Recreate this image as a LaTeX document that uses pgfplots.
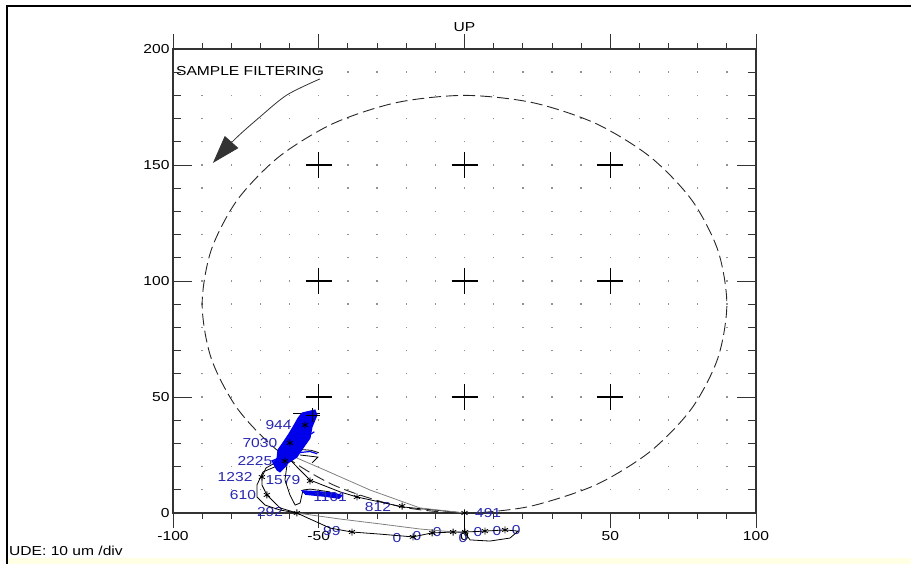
\documentclass[border=0pt]{standalone}
\usepackage{fontspec}
\setmainfont[FakeStretch=1.2]{Liberation Sans}
\usepackage{pgfplots}
\pgfplotsset{compat=1.18}
\usetikzlibrary{arrows.meta}
\definecolor{lblue}{RGB}{40,40,175}
\definecolor{blobc}{RGB}{0,0,235}
\definecolor{ystrip}{RGB}{255,255,228}
\begin{document}
\begin{tikzpicture}[x=1pt,y=1pt,font=\fontsize{13}{15}\selectfont]
\path[use as bounding box] (0,0) rectangle (911,564);
\fill[ystrip] (8,0) rectangle (911,6);
\draw[line width=1.8pt] (7,0) -- (7,558) -- (911,558);
\node[anchor=west,inner sep=0pt] at (9,13) {UDE: 10 um /div};

\begin{axis}[at={(173pt,51pt)}, anchor=south west, scale only axis,
  width=583pt, height=464pt,
  xmin=-100, xmax=100, ymin=0, ymax=200, clip=false,
  xtick={-100,-50,0,50,100}, minor x tick num=4, ytick=\empty,
  tick align=outside, major tick length=15pt, minor tick length=6pt,
  xmajorgrids, xminorgrids,
  grid style={draw=gray!85, line width=1.4pt, dash pattern=on 1.4pt off 21.8pt, dash phase=0.7pt},
  minor grid style={draw=gray!85, line width=1.4pt, dash pattern=on 1.4pt off 21.8pt, dash phase=0.7pt},
  axis line style={line width=1.1pt, draw=black!80},
  tick style={line width=0.9pt, draw=black!80},
  /pgf/number format/assume math mode=true,
  xticklabel style={font=\fontsize{13}{15}\selectfont},
  ]
% dashed reference circle
\addplot[smooth, line width=0.9pt, black!85, dash pattern=on 12pt off 5pt] coordinates {
(0,0) (6.3,0.22) (23.3,3.1) (45,12.1) (63.6,26.4) (77.9,45) (86.9,66.7) (90,90)
(86.9,113.3) (77.9,135) (63.6,153.6) (45,167.9) (23.3,176.9) (0,180)
(-23.3,176.9) (-45,167.9) (-63.6,153.6) (-77.9,135) (-86.9,113.3) (-90,90)
(-86.9,66.7) (-77.9,45) (-63.6,26.4) (-45,12.1) (-23.3,3.1) (-6.3,0.22) (0,0)};
% crosses
\addplot[only marks, mark=+, mark size=13pt, mark options={line width=1.2pt, black}] coordinates {
(-50,50)(0,50)(50,50)(-50,100)(0,100)(50,100)(-50,150)(0,150)(50,150)};
% sample filtering arrow
\addplot[smooth, line width=0.8pt, black!80, -{Triangle[length=28pt,width=18pt]}] coordinates {
(-49.6,187.1) (-60.9,180.2) (-70.2,170.7) (-78.7,161.2) (-86.3,150.9)};
\node[anchor=west, inner sep=0pt] at (axis cs:-99,190.5) {SAMPLE FILTERING};
\node at (axis cs:0,200) [yshift=22pt] {UP};

% data labels (drawn under the blob)
\begin{scope}[every node/.style={lblue, inner sep=0pt}]
\node at (axis cs:-63.8,37.9) {944};
\node at (axis cs:-70.2,30.2) {7030};
\node at (axis cs:-71.9,22.4) {2225};
\node at (axis cs:-78.7,15.5) {1232};
\node at (axis cs:-62.3,14.2) {1579};
\node at (axis cs:-76.0,7.8) {610};
\node at (axis cs:-66.7,0.4) {292};
\node at (axis cs:-29.7,2.6) {812};
\node at (axis cs:8.1,0) {491};
\node at (axis cs:-45.5,-7.8) {99};
\node at (axis cs:-23.2,-10.8) {0};
\node at (axis cs:-16.3,-9.9) {0};
\node at (axis cs:-9.4,-8.2) {0};
\node at (axis cs:-0.5,-10.8) {0};
\node at (axis cs:4.6,-8.2) {0};
\node at (axis cs:11.1,-7.8) {0};
\node at (axis cs:17.7,-7.3) {0};
\end{scope}

% trajectory lines
\addplot[line width=0.8pt, black] coordinates {(-60.5,23.7) (-53.0,14.2) (-42.7,9.1) (-36.9,6.9) (-21.1,2.6) (0,0)};
\addplot[line width=0.8pt, gray] coordinates {(-59.9,25.0) (-47.9,18.5) (-32.4,9.9) (-15.3,2.2) (0,0)};
\addplot[line width=0.8pt, gray] coordinates {(-57.5,0) (-42.7,-2.6) (-29.0,-4.7) (-15.3,-6.9) (0.2,-8.6)};
\addplot[line width=0.8pt, black] coordinates {(-57.5,0) (-53.0,-2.6) (-46.1,-6.5) (-38.6,-8.2) (-29.0,-9.1) (-17.7,-10.3) (-11.2,-8.6) (-3.9,-8.2) (0.2,-8.2) (7.0,-7.8) (13.9,-7.3)};
\addplot[line width=0.8pt, black] coordinates {(-57.5,0) (-63.3,2.2) (-67.8,7.8) (-69.5,12.1) (-69.5,15.5) (-68.1,19.4) (-65.0,21.6) (-61.6,22.4)};
\addplot[line width=0.8pt, black] coordinates {(-64.3,20.3) (-69.1,17.7) (-71.2,12.1) (-71.2,6.9) (-68.4,3.4) (-63.3,1.3) (-57.5,0)};
\addplot[line width=0.8pt, black] coordinates {(-60.9,20.7) (-61.6,14.2) (-59.9,7.8) (-58.1,3.4) (-56.4,4.3) (-55.4,9.9) (-53.0,10.3) (-46.1,9.1)};
\addplot[line width=0.8pt, black] coordinates {(-58.8,43.1) (-49.6,43.1)};
\addplot[line width=0.8pt, black] coordinates {(-56.4,25.0) (-50.3,24.1) (-52.3,21.6)};
\addplot[line width=0.8pt, black] coordinates {(-57.5,27.5) (-52.5,27.0) (-50.0,26.0)};
\addplot[line width=0.8pt, black] coordinates {(0,0) (0,-8.2)};
\addplot[line width=0.8pt, black] coordinates {(0.2,-8.6) (1.9,-11.6) (8.7,-12.1) (15.6,-10.8) (18.4,-7.8) (13.9,-7.3)};

% blue blobs
\addplot[fill=blobc, draw=blobc, line width=1pt] coordinates {
(-54.4,43.5) (-51.3,44.4) (-50.6,42.2) (-51.3,40.1) (-52.3,37.1) (-53.0,32.3)
(-55.4,28.0) (-57.5,24.1) (-60.5,21.6) (-61.6,19.8) (-63.3,17.7) (-64.3,18.5)
(-65.7,21.6) (-64.3,23.7) (-64.0,27.2) (-62.3,30.2) (-60.5,33.6) (-58.8,37.1)
(-57.1,40.9) (-55.7,43.1) (-54.4,43.5)} -- cycle;
\addplot[fill=blobc, draw=blobc, line width=1pt] coordinates {
(-55.7,9.6) (-50.0,9.2) (-45.0,8.6) (-42.0,7.6) (-43.0,6.3) (-48.0,7.2) (-54.5,8.0) (-55.7,9.6)} -- cycle;
\addplot[line width=1.2pt, blobc] coordinates {(-57,26) (-53,26.5) (-50.5,25.5)};
\addplot[line width=1.2pt, blobc] coordinates {(-58,30) (-54,33) (-51.5,35)};
\addplot[line width=1.2pt, blobc] coordinates {(-63,24) (-66,22.5) (-64.5,20)};
\node[lblue, inner sep=0pt] at (axis cs:-46.1,6.9) {1101};

% star markers
\addplot[only marks, mark=asterisk, mark size=3.5pt, mark options={line width=0.8pt, black}] coordinates {
(0,0) (-21.4,3.0) (-36.9,6.9) (-53,13.8) (-57.5,0) (-67.8,7.8) (-69.5,15.5)
(-61.6,22.4) (-59.9,30.2) (-54.7,37.9) (-38.6,-8.2) (-11.1,-8.6) (-3.9,-8.2)
(0.2,-8.2) (7,-7.8) (13.9,-7.3) (-17.7,-10.3)};
\addplot[only marks, mark=+, mark size=7pt, mark options={line width=1pt, black}] coordinates {(-52,42.2)};
\end{axis}

\begin{axis}[at={(173pt,51pt)}, anchor=south west, scale only axis,
  width=583pt, height=464pt,
  xmin=-100, xmax=100, ymin=0, ymax=200,
  xtick=\empty, ytick={0,50,100,150,200}, minor y tick num=4,
  tick align=inside, major tick length=19pt, minor tick length=8pt,
  axis line style={draw=none},
  tick style={line width=0.9pt, draw=black!80},
  /pgf/number format/assume math mode=true,
  yticklabel style={font=\fontsize{13}{15}\selectfont},
  ]
\end{axis}
\end{tikzpicture}
\end{document}
